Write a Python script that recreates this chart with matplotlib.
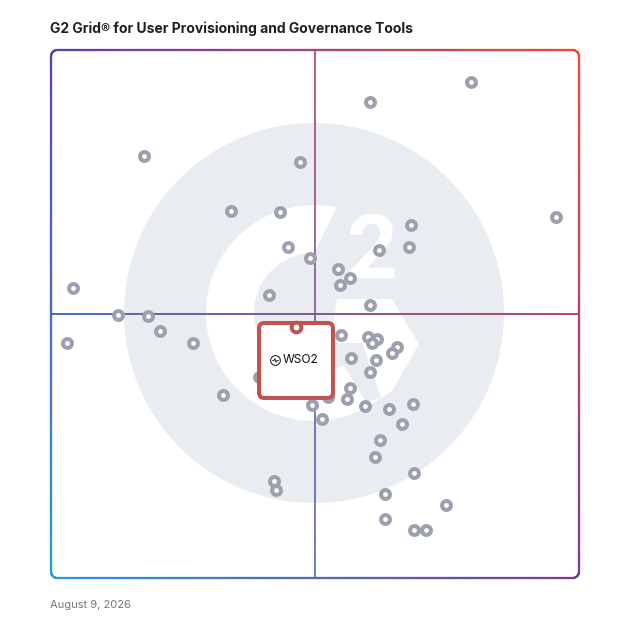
import numpy as np
import matplotlib.pyplot as plt
from matplotlib.collections import LineCollection
from matplotlib.patches import Polygon, Circle, FancyBboxPatch
from matplotlib.path import Path
from matplotlib.colors import to_rgb

title = "G2 Grid® for User Provisioning and Governance Tools"
date_label = "August 9, 2026"

# market presence (x) and satisfaction (y), scaled 0-100 on the grid
vendor_x = [17.7, 47.2, 34.1, 43.3, 44.8, 49.1, 4.1, 41.3,
            79.5, 60.5, 95.6, 68.2, 67.8, 62.1, 54.4, 56.6, 54.7, 60.5,
            12.6, 18.3, 20.6, 3.0, 26.8, 32.6, 39.3, 42.2, 42.7,
            55.0, 60.1, 61.7, 60.8, 65.6, 64.5, 56.8, 61.5, 60.5, 56.6,
            56.1, 52.5, 49.5, 51.4, 59.5, 64.1, 68.5, 66.4, 62.3, 61.4,
            68.7, 63.3, 74.9, 63.3, 68.7, 71.0]
vendor_y = [79.9, 78.7, 69.5, 69.4, 62.6, 60.7, 54.9, 53.6,
            93.9, 90.2, 68.4, 66.9, 62.7, 62.1, 58.5, 56.9, 55.5, 51.7,
            49.8, 49.6, 46.8, 44.5, 44.5, 34.6, 38.0, 18.4, 16.7,
            46.0, 45.6, 45.2, 44.5, 43.8, 42.6, 41.7, 41.2, 39.0, 36.0,
            33.9, 34.2, 32.8, 30.2, 32.5, 32.0, 32.9, 29.2, 26.2, 23.0,
            19.8, 16.0, 13.8, 11.1, 9.1, 9.1]

wso2_name = "WSO2"
wso2_x = 46.4
wso2_y = 47.6

corner_colors = {"tl": "#5b3fb5", "tr": "#f24a2c", "bl": "#2a9ad8", "br": "#7a3a98"}
grey_ring = "#9ca1ad"
red = "#c1524f"
logo_grey = "#e9ecf0"


def grid_color(x, y):
    u, v = x / 100, y / 100
    tl, tr = np.array(to_rgb(corner_colors["tl"])), np.array(to_rgb(corner_colors["tr"]))
    bl, br = np.array(to_rgb(corner_colors["bl"])), np.array(to_rgb(corner_colors["br"]))
    top = tl * (1 - u) + tr * u
    bot = bl * (1 - u) + br * u
    return np.clip(bot * (1 - v) + top * v, 0, 1)


def gradient_line(ax, xs, ys, lw, alpha=1.0, z=2):
    pts = np.c_[xs, ys]
    segs = np.stack([pts[:-1], pts[1:]], axis=1)
    mids = (pts[:-1] + pts[1:]) / 2
    cols = [(*grid_color(mx, my), alpha) for mx, my in mids]
    lc = LineCollection(segs, colors=cols, linewidths=lw, zorder=z, clip_on=False,
                        capstyle="round")
    ax.add_collection(lc)


def px(x, y):
    # figure pixel -> grid units (grid spans pixels 51..579 / 50..578)
    return ((x - 51) / 5.28, (578 - y) / 5.28)


fig = plt.figure(figsize=(6.28, 6.28), dpi=100)
ax = fig.add_axes([51 / 628, 50 / 628, 528 / 628, 528 / 628])
ax.set_xlim(0, 100)
ax.set_ylim(0, 100)
ax.axis("off")

# G2 watermark
cx, cy = px(314, 313)
ax.add_patch(Circle((cx, cy), 190 / 5.28, fc=logo_grey, ec="none", zorder=0))
r_out, r_in = 108 / 5.28, 60 / 5.28
a_out = np.radians(np.linspace(78, 315, 120))
a_in = np.radians(np.linspace(315, 90, 120))
ring = np.r_[np.c_[cx + r_out * np.cos(a_out), cy + r_out * np.sin(a_out)],
             np.c_[cx + r_in * np.cos(a_in), cy + r_in * np.sin(a_in)]]
ax.add_patch(Polygon(ring, closed=True, fc="white", ec="none", zorder=0.5))
chevron = [px(337, 299), px(392, 299), px(419, 344), px(392, 391),
           px(381, 398), px(362, 343), px(330, 343)]
ax.add_patch(Polygon(chevron, closed=True, fc="white", ec="none", zorder=0.6))
notch = [px(330, 343), px(362, 343), px(381, 398), px(366, 402)]
ax.add_patch(Polygon(notch, closed=True, fc=logo_grey, ec="none", zorder=0.7))
ax.text(*px(372, 254), "2", color="white", fontsize=64, fontweight="bold",
        family="Roboto", ha="center", va="center", zorder=0.8)

# frame with gradient border
r = 1.2
pts = []
for ccx, ccy, a0 in [(100 - r, 100 - r, 0), (r, 100 - r, 90), (r, r, 180), (100 - r, r, 270)]:
    t = np.radians(np.linspace(a0, a0 + 90, 15))
    pts.append(np.c_[ccx + r * np.cos(t), ccy + r * np.sin(t)])
pts.append(pts[0][:1])
pts = np.vstack(pts)
seg_len = np.r_[0, np.cumsum(np.hypot(*np.diff(pts, axis=0).T))]
s = np.linspace(0, seg_len[-1], 3000)
gradient_line(ax, np.interp(s, seg_len, pts[:, 0]), np.interp(s, seg_len, pts[:, 1]), lw=1.6)

# quadrant lines
line_s = np.linspace(0, 100, 300)
gradient_line(ax, line_s, np.full_like(line_s, 50), lw=1.3, z=1)
gradient_line(ax, np.full_like(line_s, 50), line_s, lw=1.3, alpha=0.75, z=1)

# vendors
ax.plot(vendor_x, vendor_y, "o", ms=6.4, mfc="white", mec=grey_ring, mew=2.9,
        zorder=3, clip_on=False)

# highlighted product
ax.add_patch(FancyBboxPatch((wso2_x - 7.0, wso2_y + 0.7 - 14.2), 14.0, 14.2,
                            boxstyle="round,pad=0,rounding_size=1.0",
                            fc="white", ec=red, lw=2.9, zorder=4))
ax.plot(wso2_x, wso2_y, "o", ms=7, mfc="white", mec=red, mew=2.8, zorder=5)
icon_x, icon_y = wso2_x - 3.9, wso2_y - 6.3
ax.plot(icon_x, icon_y, "o", ms=7, mfc="none", mec="#111111", mew=0.7, zorder=5)
zig = Path([(-1, 0), (-0.45, 0), (-0.15, 0.55), (0.15, -0.55), (0.45, 0), (1, 0)],
           [Path.MOVETO] + [Path.LINETO] * 5)
ax.plot(icon_x, icon_y, marker=zig, ms=4.8, mfc="none", mec="#111111", mew=0.6,
        ls="none", zorder=5)
ax.text(wso2_x - 2.6, icon_y, wso2_name, fontsize=8.6, family="Inter", color="#111111",
        ha="left", va="center", zorder=5)

fig.text(50 / 628, 1 - 29 / 628, title, fontsize=10, fontweight="bold", family="Inter",
         color="#1f1f1f", ha="left", va="center")
fig.text(50 / 628, 1 - 605 / 628, date_label, fontsize=8, family="Inter",
         color="#777777", ha="left", va="center")

fig.savefig("out.png", dpi=100, facecolor="white")
